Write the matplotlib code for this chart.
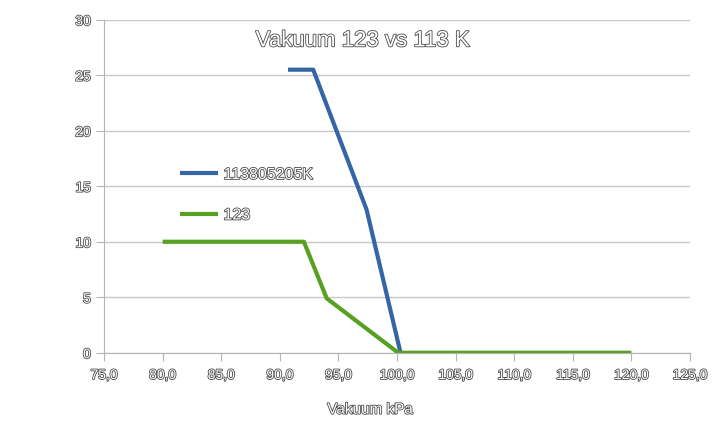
import matplotlib
matplotlib.use("Agg")
import matplotlib.pyplot as plt
import matplotlib.patheffects as pe
from matplotlib.ticker import FuncFormatter

# series
vac_113 = [90.7, 92.85, 97.4, 100.3]
val_113 = [25.5, 25.5, 12.9, 0.0]
vac_123 = [80.0, 92.05, 94.0, 100.1, 120.0]
val_123 = [10.0, 10.0, 4.9, 0.0, 0.0]

xticks = [75, 80, 85, 90, 95, 100, 105, 110, 115, 120, 125]
yticks = [0, 5, 10, 15, 20, 25, 30]

plt.rcParams["font.family"] = ["Liberation Sans", "DejaVu Sans"]
outline = [pe.withStroke(linewidth=1.2, foreground="#4a4a4a")]

fig = plt.figure(figsize=(7.16, 4.25), dpi=100)
ax = fig.add_axes([0.1453, 0.170, 0.8184, 0.7836])

ax.plot(vac_113, val_113, color="#3465a4", lw=3, label="113805205K", solid_capstyle="butt")
ax.plot(vac_123, val_123, color="#58a021", lw=3, label="123", solid_capstyle="butt")

ax.set_xlim(75, 125)
ax.set_ylim(0, 30)
ax.set_xticks(xticks)
ax.set_yticks(yticks)
ax.xaxis.set_major_formatter(FuncFormatter(lambda v, p: f"{v:.1f}".replace(".", ",")))
ax.grid(axis="y", color="#c8c8c8", lw=1)
ax.set_axisbelow(True)
for s in ["top", "right"]:
    ax.spines[s].set_visible(False)
for s in ["left", "bottom"]:
    ax.spines[s].set_color("#b4b4b4")
ax.tick_params(colors="#b4b4b4", length=5.5)
ax.tick_params(axis="x", pad=5.5)
ax.tick_params(axis="y", pad=4)

for lab in ax.get_xticklabels() + ax.get_yticklabels():
    lab.set_color("white")
    lab.set_fontsize(10)
    lab.set_path_effects(outline)

ax.set_title("Vakuum 123 vs 113 K", fontsize=16, color="white", x=0.442, y=0.895,
             path_effects=outline)
ax.set_xlabel("Vakuum kPa", fontsize=11, color="white", path_effects=outline)
ax.xaxis.set_label_coords(0.454, -0.15)

leg = ax.legend(loc="center left", bbox_to_anchor=(0.118, 0.4745), frameon=False,
                fontsize=11.5, handlelength=2.4, handletextpad=0.35,
                labelspacing=1.6, borderaxespad=0)
for t in leg.get_texts():
    t.set_color("white")
    t.set_path_effects(outline)

fig.savefig("out.png", dpi=100)
